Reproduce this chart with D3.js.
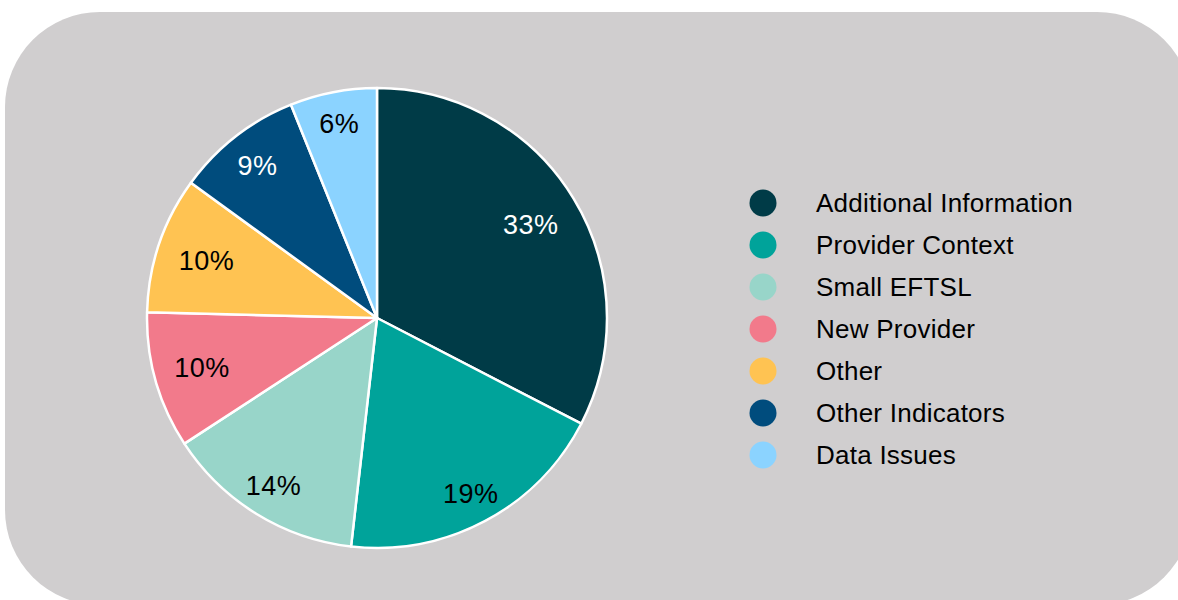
<!DOCTYPE html>
<html>
<head>
<meta charset="utf-8">
<script src="https://cdn.jsdelivr.net/npm/d3@7"></script>
<style>
  html, body { margin: 0; padding: 0; background: #ffffff; }
  svg { display: block; }
  text { font-family: "Liberation Sans", Arial, Helvetica, sans-serif; }
</style>
</head>
<body>
<svg id="chart" width="1178" height="600"></svg>
<script>
// Share of cases by reason category
const categories = ["Additional Information", "Provider Context", "Small EFTSL", "New Provider", "Other", "Other Indicators", "Data Issues"];
const shares = [32.6, 19.2, 14.0, 9.6, 9.6, 8.9, 6.1];
const colours = ["#003b47", "#00a39a", "#98d5c9", "#f27a8b", "#ffc352", "#004c7d", "#8bd3ff"];
const labelColours = ["#ffffff", "#000000", "#000000", "#000000", "#000000", "#ffffff", "#000000"];

const data = categories.map((name, i) => ({ name, value: shares[i], colour: colours[i], text: labelColours[i] }));

const svg = d3.select("#chart");

// Rounded grey backdrop
svg.append("rect")
  .attr("x", 5).attr("y", 12)
  .attr("width", 1187).attr("height", 593)
  .attr("rx", 95).attr("ry", 95)
  .attr("fill", "#d0cecf");

// Pie
const cx = 377, cy = 318, radius = 230;
const pie = d3.pie().sort(null).value(d => d.value);
const arc = d3.arc().innerRadius(0).outerRadius(radius);
// best-fit distance of each percentage label from the centre
const labelRadii = [180, 199, 197, 182, 180, 194, 198];

const g = svg.append("g").attr("transform", `translate(${cx},${cy})`);
const arcs = pie(data);

g.selectAll("path.slice")
  .data(arcs)
  .join("path")
  .attr("class", "slice")
  .attr("d", arc)
  .attr("fill", d => d.data.colour)
  .attr("stroke", "#ffffff")
  .attr("stroke-width", 2.5)
  .attr("stroke-linejoin", "round");

const fmt = v => Math.round(v) + "%";

g.selectAll("text.pct")
  .data(arcs)
  .join("text")
  .attr("class", "pct")
  .attr("transform", (d, i) => {
    const r = labelRadii[i];
    return `translate(${d3.arc().innerRadius(r).outerRadius(r).centroid(d)})`;
  })
  .attr("text-anchor", "middle")
  .attr("dy", "0.35em")
  .attr("font-size", 27)
  .attr("letter-spacing", 0.5)
  .attr("fill", d => d.data.text)
  .text(d => fmt(d.data.value));

// Legend
const legendY = d3.scalePoint().domain(categories).range([203, 455]);
const legend = svg.append("g");
const rows = legend.selectAll("g.row")
  .data(data)
  .join("g")
  .attr("class", "row")
  .attr("transform", d => `translate(763,${legendY(d.name)})`);

rows.append("circle")
  .attr("r", 13.5)
  .attr("fill", d => d.colour);

rows.append("text")
  .attr("x", 53)
  .attr("dy", "0.35em")
  .attr("font-size", 26)
  .attr("letter-spacing", 0.25)
  .attr("fill", "#000000")
  .text(d => d.name);
</script>
</body>
</html>
